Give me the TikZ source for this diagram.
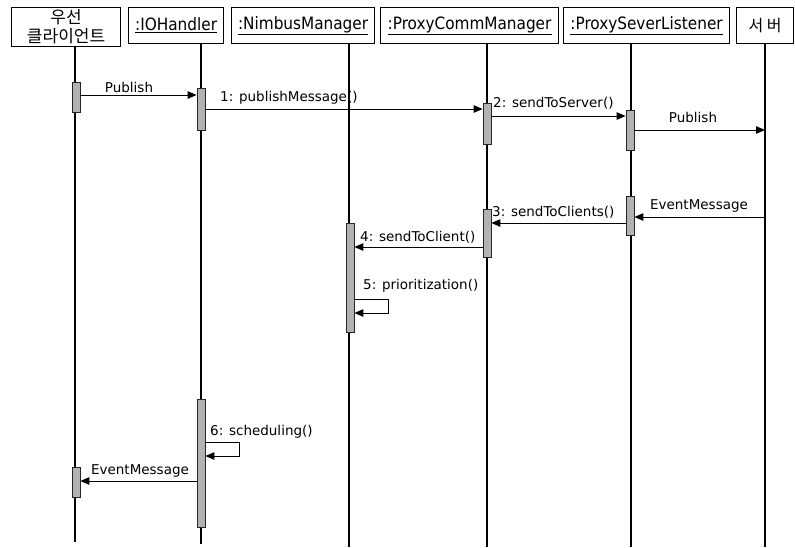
\documentclass[tikz,border=0pt]{standalone}
\usepackage{fontspec}
\setmainfont{DejaVu Sans}
\newfontfamily\hdr{DejaVu Sans Condensed}
\newfontfamily\kr{Noto Sans CJK KR}
\usetikzlibrary{arrows.meta}
\begin{document}
\begin{tikzpicture}[x=1pt,y=-1pt,
  obj/.style={draw, line width=1.2pt, inner sep=0pt, anchor=north west,
              font=\hdr\fontsize{17}{18}\selectfont},
  life/.style={line width=1.2pt},
  act/.style={draw=black!85, fill=gray!60, line width=0.8pt, inner sep=0pt,
              minimum width=8pt, anchor=north},
  msg/.style={line width=1pt, -{Triangle[length=9pt,width=7.5pt]}},
  lbl/.style={font=\fontsize{13.5}{15}\selectfont, inner sep=0pt}]
\useasboundingbox (0,0) rectangle (795,547);

% objects
\node[obj, minimum width=109pt, minimum height=39pt, align=center,
      font=\kr\fontsize{17}{19}\selectfont] (cl) at (11,7) {우선\\클라이언트};
\node[obj, minimum width=95pt, minimum height=36pt] (ioh) at (128,7) {\underline{:IOHandler}};
\node[obj, minimum width=143pt, minimum height=36pt] (nm) at (231,7) {\underline{:NimbusManager}};
\node[obj, minimum width=178pt, minimum height=36pt] (pcm) at (380,7) {\underline{:ProxyCommManager}};
\node[obj, minimum width=166pt, minimum height=36pt] (psl) at (563,7) {\underline{:ProxySeverListener}};
\node[obj, minimum width=57pt, minimum height=36pt, font=\kr\fontsize{16}{18}\selectfont] (srv) at (736,7) {서 버};

% lifeline ends
\coordinate (e1) at (75,542);
\coordinate (e2) at (201,544);
\coordinate (e3) at (349,547);
\coordinate (e4) at (487,547);
\coordinate (e5) at (631,547);
\coordinate (e6) at (765,547);
\draw[life] (cl.south -| e1) -- (e1);
\draw[life] (ioh.south -| e2) -- (e2);
\draw[life] (nm.south -| e3) -- (e3);
\draw[life] (pcm.south -| e4) -- (e4);
\draw[life] (psl.south -| e5) -- (e5);
\draw[life] (srv.south -| e6) -- (e6);

% activation bars
\node[act, minimum height=30pt] (a1) at (76,82) {};
\node[act, minimum height=42pt] (a2) at (201,88) {};
\node[act, minimum height=41pt] (a3) at (487,103) {};
\node[act, minimum height=40pt] (a4) at (630,110) {};
\node[act, minimum height=39pt] (a5) at (630,196) {};
\node[act, minimum height=48pt] (a6) at (487,209) {};
\node[act, minimum height=109pt] (a7) at (350,223) {};
\node[act, minimum height=128pt] (a8) at (201,399) {};
\node[act, minimum height=30pt] (a9) at (76,467) {};

% messages
\draw[msg] (a1.east |- 0,95) -- (a2.west |- 0,95);
\node[lbl] (t1) at (129,87) {Publish};

\draw[msg] (a2.east |- 0,109) -- (a3.west |- 0,109);
\node[lbl, anchor=west] (t2) at (220,98) {1: publishMessage()};

\draw[msg] (a3.east |- 0,116) -- (a4.west |- 0,116);
\node[lbl, anchor=west] (t3) at (493,103) {2: sendToServer()};

\draw[msg] (a4.east |- 0,130) -- (e6 |- 0,130);
\node[lbl] (t4) at (693,117) {Publish};

\draw[msg] (e6 |- 0,217) -- (a5.east |- 0,217);
\node[lbl] (t5) at (699,206) {EventMessage};

\draw[msg] (a5.west |- 0,223) -- (a6.east |- 0,223);
\node[lbl, anchor=west] (t6) at (492,212) {3: sendToClients()};

\draw[msg] (a6.west |- 0,247) -- (a7.east |- 0,247);
\node[lbl, anchor=west] (t7) at (360,237) {4: sendToClient()};

\draw[msg] (a7.east |- 0,299) -| (388,313) -- (a7.east |- 0,313);
\node[lbl, anchor=west] (t8) at (363,286) {5: prioritization()};

\draw[msg] (a8.east |- 0,442) -| (239,456) -- (a8.east |- 0,456);
\node[lbl, anchor=west] (t9) at (210,432) {6: scheduling()};

\draw[msg] (a8.west |- 0,481) -- (a9.east |- 0,481);
\node[lbl] (t10) at (140,471) {EventMessage};
\end{tikzpicture}
\end{document}
